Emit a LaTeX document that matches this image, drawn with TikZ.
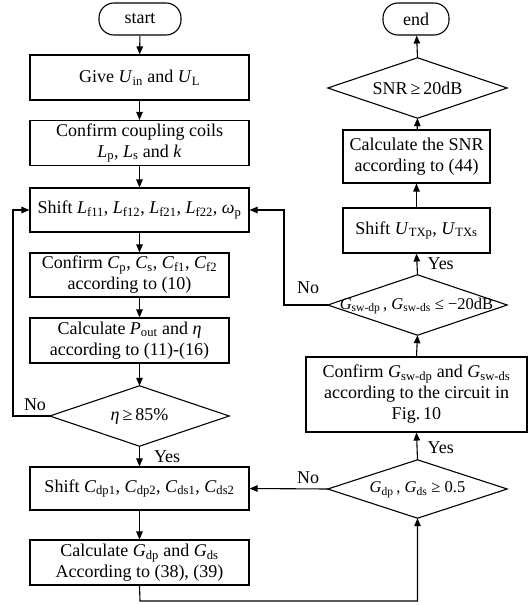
\documentclass[tikz,border=0pt]{standalone}
\usepackage{fontspec}
\setmainfont{Liberation Serif}
\usetikzlibrary{arrows.meta}
\newcommand\V[2]{\textit{#1}\textsubscript{#2}}
\begin{document}
\begin{tikzpicture}[x=1pt,y=-1pt,
  every node/.style={font=\fontsize{18}{21}\selectfont},
  box/.style={draw,line width=1.1pt,align=center,inner sep=0pt},
  term/.style={draw,line width=1.1pt,rounded corners=15pt,inner sep=0pt,minimum width=82pt,minimum height=32pt},
  dia/.style={inner sep=0pt,minimum width=179pt,minimum height=60pt},
  diatext/.style={font=\fontsize{16.5}{19}\selectfont},
  lbl/.style={inner sep=0pt},
  arr/.style={line width=1.1pt,-{Triangle[length=8pt,width=6.5pt]}},
  ln/.style={line width=1.1pt}]
\useasboundingbox (0,0) rectangle (530,605);
% left column
\node[term] (start) at (140,19) {start};
\node[box,minimum width=219pt,minimum height=45pt] (give) at (139.5,77.5) {Give \V{U}{in} and \V{U}{L}};
\node[box,minimum width=219pt,minimum height=45pt] (coup) at (139.5,143) {Confirm coupling coils\\\V{L}{p}, \V{L}{s} and \textit{k}};
\node[box,minimum width=219pt,minimum height=44pt] (shl) at (139.5,210) {Shift \V{L}{f11}, \V{L}{f12}, \V{L}{f21}, \V{L}{f22}, \V{ω}{p}};
\node[box,minimum width=199pt,minimum height=44pt] (cp) at (129.5,275) {Confirm \V{C}{p}, \V{C}{s}, \V{C}{f1}, \V{C}{f2}\\according to (10)};
\node[box,minimum width=199pt,minimum height=45pt] (pout) at (129.5,340.5) {Calculate \V{P}{out} and \textit{η}\\according to (11)-(16)};
\node[dia] (eta) at (139.5,416) {\textit{η}\,≥\,85\%};
\draw[ln] (eta.west) -- (eta.north) -- (eta.east) -- (eta.south) -- cycle;
\node[box,minimum width=219pt,minimum height=43pt] (shc) at (139.5,488.5) {Shift \V{C}{dp1}, \V{C}{dp2}, \V{C}{ds1}, \V{C}{ds2}};
\node[box,minimum width=219pt,minimum height=45pt] (calg) at (139.5,562.5) {Calculate \V{G}{dp} and \V{G}{ds}\\According to (38), (39)};
% right column
\node[term,minimum width=66pt] (end) at (416,19) {end};
\node[dia] (snr) at (417.5,88) {SNR\,≥\,20dB};
\draw[ln] (snr.west) -- (snr.north) -- (snr.east) -- (snr.south) -- cycle;
\node[box,minimum width=147pt,minimum height=53pt] (csnr) at (416.5,156.5) {Calculate the SNR\\according to (44)};
\node[box,minimum width=147pt,minimum height=45pt] (shu) at (416.5,230.5) {Shift \V{U}{TXp}, \V{U}{TXs}};
\node[dia] (gsw) at (417.5,305) {};
\node[lbl,diatext] at (416.5,306) {\V{G}{sw-dp}\,, \V{G}{sw-ds} ≤ −20dB};
\draw[ln] (gsw.west) -- (gsw.north) -- (gsw.east) -- (gsw.south) -- cycle;
\node[box,minimum width=221pt,minimum height=75pt] (cgs) at (416.5,394.5) {Confirm \V{G}{sw-dp} and \V{G}{sw-ds}\\according to the circuit in\\Fig.\,10};
\node[dia,minimum height=58pt] (gdp) at (417.5,489) {};
\node[lbl,diatext] at (417.5,490) {\V{G}{dp}\,, \V{G}{ds} ≥ 0.5};
\draw[ln] (gdp.west) -- (gdp.north) -- (gdp.east) -- (gdp.south) -- cycle;
% connectors left
\draw[arr] (start) -- (give);
\draw[arr] (give) -- (coup);
\draw[arr] (coup) -- (shl);
\draw[arr] (shl.south) -- (shl.south |- cp.north);
\draw[arr] (shl.south |- cp.south) -- (shl.south |- pout.north);
\draw[arr] (shl.south |- pout.south) -- (eta.north);
\draw[arr] (eta.south) -- (shc.north) node[lbl,pos=0.5,right=14pt] {Yes};
\coordinate (lx) at (13,416);
\draw[arr] (eta.west) -- (lx) |- (shl.west);
\node[lbl] at (35,405) {No};
\draw[arr] (shc) -- (calg);
\coordinate (bl) at (140,601);
\draw[arr] (calg.south) -- (bl) -| (gdp.south);
% connectors right
\draw[arr] (gdp.west) -- (shc.east) node[lbl,pos=0.25,above=5pt] {No};
\draw[arr] (gdp.north) -- (cgs.south) node[lbl,pos=0.45,right=10pt] {Yes};
\draw[arr] (cgs.north) -- (gsw.south);
\draw[arr] (gsw.north) -- (shu.south) node[lbl,pos=0.5,right=10pt] {Yes};
\coordinate (rx) at (284,305);
\draw[arr] (gsw.west) -- (rx) |- (shl.east);
\node[lbl] at (308,288) {No};
\draw[arr] (shu) -- (csnr);
\draw[arr] (csnr) -- (snr.south);
\draw[arr] (snr.north) -- (end);
\end{tikzpicture}
\end{document}
